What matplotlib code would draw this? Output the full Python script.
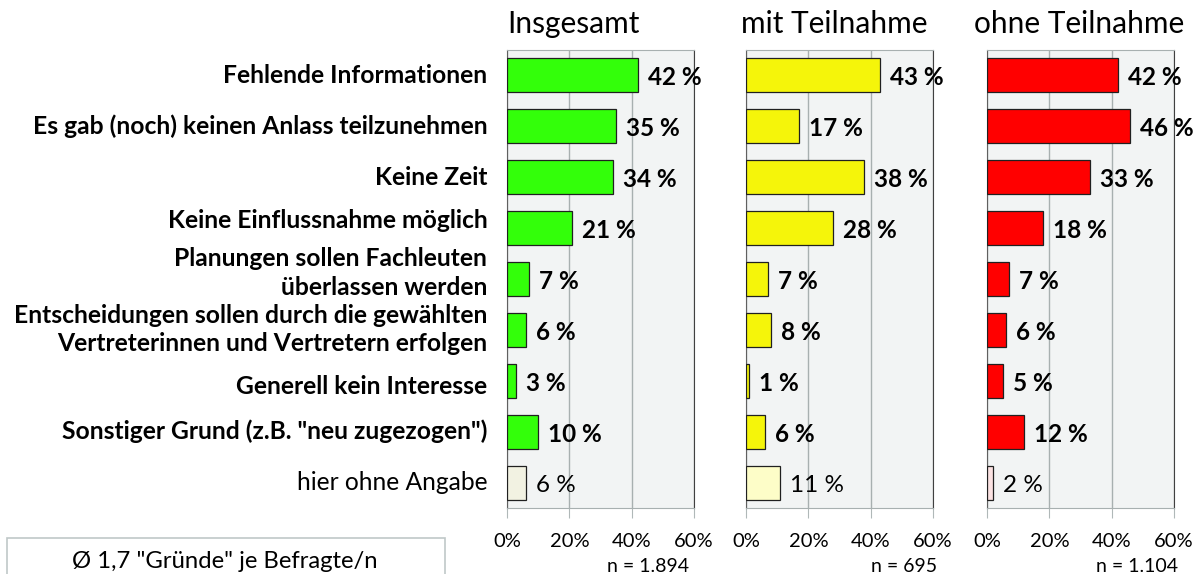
import matplotlib.pyplot as plt
from matplotlib.patches import Rectangle
from matplotlib.transforms import blended_transform_factory

plt.rcParams['font.family'] = ['Lato', 'DejaVu Sans']

categories = [
    'Fehlende Informationen',
    'Es gab (noch) keinen Anlass teilzunehmen',
    'Keine Zeit',
    'Keine Einflussnahme möglich',
    'Planungen sollen Fachleuten\nüberlassen werden',
    'Entscheidungen sollen durch die gewählten\nVertreterinnen und Vertretern erfolgen',
    'Generell kein Interesse',
    'Sonstiger Grund (z.B. "neu zugezogen")',
    'hier ohne Angabe',
]
insgesamt = [42, 35, 34, 21, 7, 6, 3, 10, 6]
mit_teilnahme = [43, 17, 38, 28, 7, 8, 1, 6, 11]
ohne_teilnahme = [42, 46, 33, 18, 7, 6, 5, 12, 2]

titles = ['Insgesamt', 'mit Teilnahme', 'ohne Teilnahme']
n_labels = ['n = 1.894', 'n = 695', 'n = 1.104']
main_colors = ['#33ff0a', '#f5f50a', '#ff0000']
pale_colors = ['#f2f2e2', '#fdfdc8', '#fbe2e2']
footnote = 'Ø 1,7 "Gründe" je Befragte/n'

W, H = 1196, 574
fig = plt.figure(figsize=(W / 100, H / 100), dpi=100)

lefts = [507, 746, 987]
title_x = [507, 741, 974]
n_x = [648, 904, 1137]
ax_w = 187
top, bottom = 50, 508

# vertical offsets (in rows) of label lines, as placed in the original layout
line_offsets = {3: (-0.14,), 4: (-0.40, 0.16), 5: (-0.29, 0.27), 6: (0.12,)}

series = [insgesamt, mit_teilnahme, ohne_teilnahme]
for k, vals in enumerate(series):
    ax = fig.add_axes([lefts[k] / W, 1 - bottom / H, ax_w / W, (bottom - top) / H])
    ax.set_facecolor('#f2f4f4')
    y = list(range(len(vals)))
    colors = [main_colors[k]] * (len(vals) - 1) + [pale_colors[k]]
    ax.barh(y, vals, height=0.67, color=colors, edgecolor='#202020', linewidth=0.9, zorder=3)
    ax.set_xlim(0, 60)
    ax.set_ylim(len(vals) - 0.5, -0.5)
    ax.set_xticks([0, 20, 40, 60])
    ax.set_xticklabels(['0%', '20%', '40%', '60%'], fontsize=14.5)
    ax.tick_params(axis='x', length=7, color='#b0b8b8', pad=11)
    ax.set_yticks([])
    if k == 0:
        tr = blended_transform_factory(ax.transAxes, ax.transData)
        for i, lab in enumerate(categories):
            last = i == len(categories) - 1
            lines = lab.split('\n')
            offs = line_offsets.get(i, (0.0,))
            for line, o in zip(lines, offs):
                ax.text(-0.105, i + o, line, transform=tr, ha='right', va='center',
                        fontsize=17.7, fontweight='normal' if last else 'bold')
    ax.grid(axis='x', color='#a8b0b0', linewidth=1, zorder=0)
    for s in ['top', 'left', 'bottom']:
        ax.spines[s].set_color('#a8b0b0')
    ax.spines['right'].set_color('#404040')
    ax.spines['left'].set_color('#606060')
    for i, v in enumerate(vals):
        last = i == len(vals) - 1
        ax.text(v + 3.2, i + 0.05, f'{v} %', va='center', ha='left', fontsize=17.5,
                fontweight='normal' if last else 'bold', zorder=4)
    fig.text(title_x[k] / W, 1 - 24 / H, titles[k], fontsize=21.5, ha='left', va='center')
    fig.text(n_x[k] / W, 1 - 567 / H, n_labels[k], fontsize=14, ha='center', va='center')

fig.patches.append(Rectangle((7 / W, -0.1), 438 / W, (574 - 538) / H + 0.1,
                             transform=fig.transFigure, fill=False,
                             edgecolor='#c0c8c8', linewidth=1.2))
fig.text(225 / W, 1 - 562 / H, footnote, fontsize=17.2, ha='center', va='center')

fig.savefig('out.png', dpi=100)
